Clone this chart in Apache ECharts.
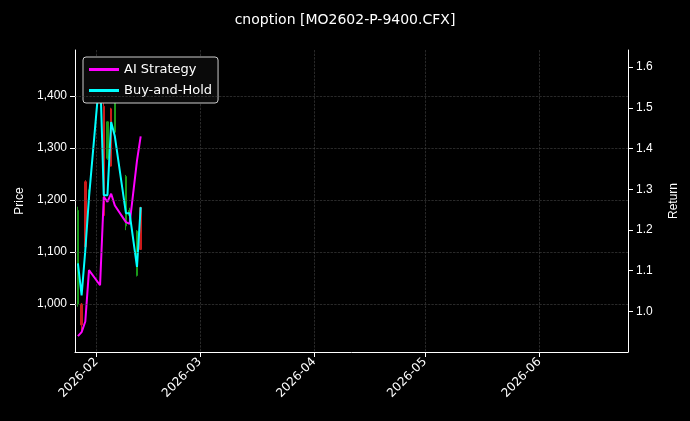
<!DOCTYPE html><html><head><meta charset="utf-8"><script src="https://cdn.jsdelivr.net/npm/echarts@6/dist/echarts.min.js"></script>
<style>html,body{margin:0;background:#000}#c{width:690px;height:421px}</style></head><body><div id="c"></div><script>
const dates=['2026-01-27','2026-01-28','2026-01-29','2026-01-30','2026-02-02','2026-02-03','2026-02-04','2026-02-05','2026-02-06','2026-02-09','2026-02-10','2026-02-12','2026-02-13'];
// open, close, low, high
const ohlc=[[1000,1180,995,1187],[1000,960,950,1002],[1235,1110,1104,1238],[1200,1215,1190,1220],[1390,1460,1386,1463],[1380,1170,1168,1386],[1280,1350,1277,1351],[1375,1265,1264,1377],[1330,1400,1329,1406],[1150,1245,1142,1248],[1170,1180,1160,1185],[1055,1140,1053,1142],[1185,1105,1104,1187]];
const aiStrategy=[0.939,0.949,0.975,1.101,1.064,1.281,1.269,1.289,1.26,1.219,1.215,1.37,1.43];
const buyHold=[1.118,1.039,1.15,1.28,1.592,1.285,1.285,1.465,1.43,1.241,1.241,1.109,1.256];
const priceTicks=[1000,1100,1200,1300,1400];
const returnTicks=[1.0,1.1,1.2,1.3,1.4,1.5,1.6];
const txt='#fff',grid={type:'dashed',color:'#444',width:0.6};
const ch=echarts.init(document.getElementById('c'));
ch.setOption({backgroundColor:'#000',animation:false,
title:{text:'cnoption [MO2602-P-9400.CFX]',left:'center',top:8,textStyle:{color:txt,fontSize:14,fontWeight:'normal',fontFamily:'DejaVu Sans'}},
legend:{left:83,top:57,orient:'vertical',itemWidth:30,itemHeight:3,itemGap:8,backgroundColor:'#0a0a0a',borderColor:'#ccc',borderWidth:1,borderRadius:3,padding:[6,6],textStyle:{color:txt,fontSize:13,fontFamily:'DejaVu Sans'},data:[{name:'AI Strategy',icon:'rect'},{name:'Buy-and-Hold',icon:'rect'}]},
grid:{left:75,right:62,top:50,bottom:69},
xAxis:{type:'time',min:'2026-01-26 05:00',max:'2026-06-25',splitNumber:5,axisLine:{lineStyle:{color:'#fff'}},axisTick:{lineStyle:{color:'#fff'}},
 axisLabel:{color:txt,rotate:45,fontSize:12,fontFamily:'DejaVu Sans',formatter:v=>{const d=new Date(v);return d.getFullYear()+'-'+String(d.getMonth()+1).padStart(2,'0');}},splitLine:{show:true,lineStyle:grid},minInterval:28*864e5},
yAxis:[{type:'value',min:908,max:1488,name:'Price',nameLocation:'middle',nameGap:48,nameTextStyle:{color:txt,fontSize:12},axisLine:{show:true,lineStyle:{color:'#fff'}},axisTick:{show:true,customValues:priceTicks},axisLabel:{color:txt,fontSize:12,customValues:priceTicks},splitLine:{show:false}},
{type:'value',min:0.9,max:1.642,name:'Return',nameLocation:'middle',nameGap:40,nameTextStyle:{color:txt,fontSize:12},axisLine:{show:true,lineStyle:{color:'#fff'}},axisTick:{show:true,customValues:returnTicks},axisLabel:{color:txt,fontSize:12,customValues:returnTicks,formatter:v=>v.toFixed(1)},splitLine:{show:false}}],
series:[{type:'candlestick',yAxisIndex:0,barWidth:2,data:dates.map((d,i)=>[d,...ohlc[i]]),itemStyle:{color:'#1a9a1a',color0:'#cc1a1a',borderColor:'#1a9a1a',borderColor0:'#cc1a1a',borderWidth:1},z:1,
 markLine:{silent:true,symbol:'none',label:{show:false},lineStyle:grid,data:priceTicks.map(v=>({yAxis:v}))}},
{name:'AI Strategy',type:'line',yAxisIndex:1,data:dates.map((d,i)=>[d,aiStrategy[i]]),showSymbol:false,lineStyle:{color:'#ff00ff',width:2},itemStyle:{color:'#ff00ff'},z:3},
{name:'Buy-and-Hold',type:'line',yAxisIndex:1,data:dates.map((d,i)=>[d,buyHold[i]]),showSymbol:false,lineStyle:{color:'#00ffff',width:2},itemStyle:{color:'#00ffff'},z:3}]});
</script></body></html>
